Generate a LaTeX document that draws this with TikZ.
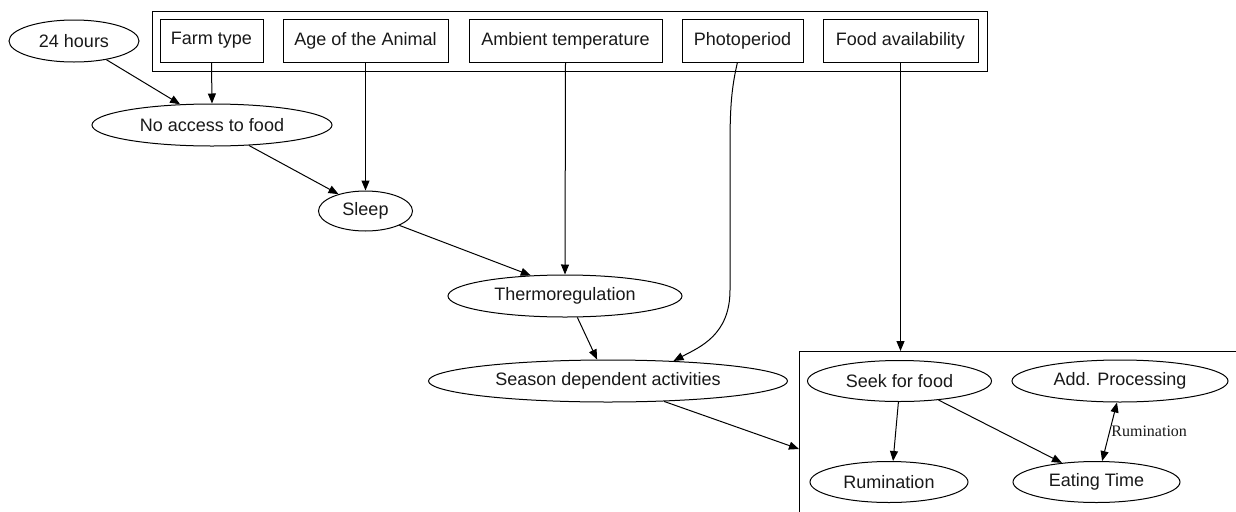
\documentclass[tikz,border=0pt]{standalone}
\usepackage{fontspec}
\setmainfont{Liberation Sans}
\newfontfamily\labfont{Liberation Serif}
\usetikzlibrary{arrows.meta,shapes.geometric}
\tikzset{
  every node/.style={font=\fontsize{13.5}{16}\selectfont, text=black!90},
  el/.style 2 args={ellipse, draw, line width=0.75pt, inner sep=0pt, minimum width=#1*0.75pt, minimum height=#2*0.75pt},
  bx/.style 2 args={rectangle, draw, line width=0.75pt, inner sep=0pt, minimum width=#1*0.75pt, minimum height=#2*0.75pt},
  arr/.style={line width=0.75pt, -{Triangle[length=7.5pt,width=6pt]}},
  arrb/.style={line width=0.75pt, {Triangle[length=7.5pt,width=6pt]}-{Triangle[length=7.5pt,width=6pt]}},
  lab/.style={font=\labfont\fontsize{12}{14}\selectfont, inner sep=1pt},
}
\begin{document}
\begin{tikzpicture}[x=0.75pt,y=-0.75pt]
\clip (0,0) rectangle (1236,511);
\fill[white] (0,0) rectangle (1236,511);
% top cluster
\node[bx={835}{60}, anchor=north west] (topcl) at (152,11) {};
\node[bx={103}{43}] (farm) at (211.5,40.5) {Farm type};
\node[bx={165}{43}] (age) at (365.5,40.5) {Age of the Animal};
\node[bx={193}{43}] (amb) at (565.5,40.5) {Ambient temperature};
\node[bx={121}{43}] (photo) at (742.5,40.5) {Photoperiod};
\node[bx={155}{43}] (food) at (900.5,40.5) {Food availability};
% left chain
\node[el={130}{42}] (h24) at (74,41) {24 hours};
\node[el={240}{42}] (noacc) at (212,125) {No access to food};
\node[el={94}{40}] (sleep) at (365.5,211) {Sleep};
\node[el={234}{42}] (thermo) at (565,296) {Thermoregulation};
\node[el={359}{42}] (season) at (608,381) {Season dependent activities};
% right cluster
\node[bx={500}{200}, anchor=north west] (cl) at (799,351) {};
\coordinate (clin) at (799,449);
\node[el={184}{41}] (seek) at (899.5,381) {Seek for food};
\node[el={216}{42}] (add) at (1120,381) {Add. Processing};
\node[el={158}{41}] (rum) at (889,482) {Rumination};
\node[el={167}{41}] (eat) at (1096.5,482) {Eating Time};
% edges
\draw[arr] (h24.-30) -- (noacc.147);
\draw[arr] (farm.south) -- (noacc.north);
\draw[arr] (noacc.-29) -- (sleep.148);
\draw[arr] (age.south) -- (sleep.north);
\draw[arr] (sleep.-23) -- (thermo.149);
\draw[arr] (amb.south) -- (thermo.north);
\draw[arr] (thermo.-60) -- (season.117);
\draw[arr] (photo.-103) .. controls (731,90) and (730,110) .. (730,150) -- (730,290) .. controls (730,335) and (700,347) .. (season.17);
\draw[arr] (food.south) -- (food.south |- cl.north);
\draw[arr] (season.-20) -- (clin);
\draw[arr] (seek.-93) -- (rum.79);
\draw[arr] (seek.-26) -- (eat.151);
\draw[arrb] (eat.75) -- node[lab, right] {Rumination} (add.-98);
\end{tikzpicture}
\end{document}
